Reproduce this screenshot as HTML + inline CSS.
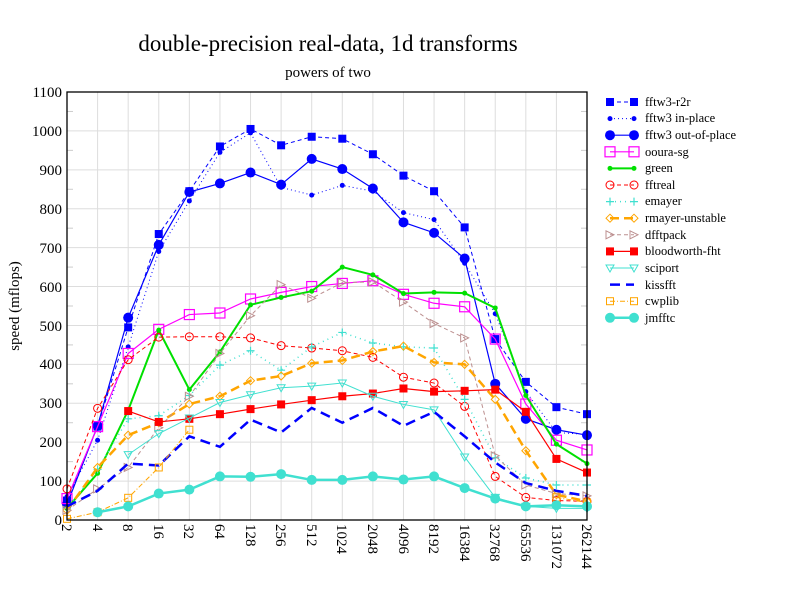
<!DOCTYPE html>
<html><head><meta charset="utf-8"><style>
body{margin:0;background:#fff}
svg{display:block;font-family:"Liberation Serif",serif}
</style></head><body>
<svg id="s" width="792" height="612" viewBox="0 0 792 612" xmlns="http://www.w3.org/2000/svg">
<rect width="792" height="612" fill="#fff"/>
<text x="328" y="51" font-size="23" text-anchor="middle">double-precision real-data, 1d transforms</text>
<text x="328" y="77" font-size="15" text-anchor="middle">powers of two</text>
<text transform="translate(19,306) rotate(-90)" font-size="15" text-anchor="middle">speed (mflops)</text>
<g id="grid"></g>
<g font-size="15" text-anchor="end">
<text x="62" y="525">0</text><text x="62" y="486">100</text><text x="62" y="447">200</text><text x="62" y="408">300</text><text x="62" y="369">400</text><text x="62" y="331">500</text><text x="62" y="292">600</text><text x="62" y="253">700</text><text x="62" y="214">800</text><text x="62" y="175">900</text><text x="62" y="136">1000</text><text x="62" y="97">1100</text>
</g>
<g font-size="15">
<text transform="translate(62,524) rotate(90)">2</text>
<text transform="translate(93,524) rotate(90)">4</text>
<text transform="translate(123,524) rotate(90)">8</text>
<text transform="translate(154,524) rotate(90)">16</text>
<text transform="translate(184,524) rotate(90)">32</text>
<text transform="translate(215,524) rotate(90)">64</text>
<text transform="translate(246,524) rotate(90)">128</text>
<text transform="translate(276,524) rotate(90)">256</text>
<text transform="translate(307,524) rotate(90)">512</text>
<text transform="translate(337,524) rotate(90)">1024</text>
<text transform="translate(368,524) rotate(90)">2048</text>
<text transform="translate(399,524) rotate(90)">4096</text>
<text transform="translate(429,524) rotate(90)">8192</text>
<text transform="translate(460,524) rotate(90)">16384</text>
<text transform="translate(490,524) rotate(90)">32768</text>
<text transform="translate(521,524) rotate(90)">65536</text>
<text transform="translate(552,524) rotate(90)">131072</text>
<text transform="translate(582,524) rotate(90)">262144</text>
</g>
<g id="series"></g>
<rect x="67" y="92" width="520" height="428" fill="none" stroke="#000" stroke-width="1.3"/>
<g id="leg"></g>
<g font-size="12.5">
<text x="645" y="106">fftw3-r2r</text>
<text x="645" y="122">fftw3 in-place</text>
<text x="645" y="139">fftw3 out-of-place</text>
<text x="645" y="156">ooura-sg</text>
<text x="645" y="172">green</text>
<text x="645" y="189">fftreal</text>
<text x="645" y="205">emayer</text>
<text x="645" y="222">rmayer-unstable</text>
<text x="645" y="239">dfftpack</text>
<text x="645" y="255">bloodworth-fht</text>
<text x="645" y="272">sciport</text>
<text x="645" y="289">kissfft</text>
<text x="645" y="305">cwplib</text>
<text x="645" y="322">jmfftc</text>
</g>
</svg>
<script>
var NS="http://www.w3.org/2000/svg";
function el(p,t,a){var e=document.createElementNS(NS,t);for(var k in a)e.setAttribute(k,a[k]);p.appendChild(e);return e;}
var X=function(i){return 67+i*520/17;},Y=function(v){return 520-v*428/1100;};
var g=document.getElementById('grid');
for(var i=0;i<18;i++)el(g,'line',{x1:X(i),x2:X(i),y1:92,y2:520,stroke:'#ddd','stroke-width':1});
for(var v=100;v<1100;v+=100)el(g,'line',{x1:67,x2:587,y1:Y(v),y2:Y(v),stroke:'#ddd','stroke-width':1});
for(var v=50;v<1100;v+=100){el(g,'line',{x1:67,x2:73,y1:Y(v),y2:Y(v),stroke:'#ccc'});el(g,'line',{x1:581,x2:587,y1:Y(v),y2:Y(v),stroke:'#ccc'});}
var B='#0000ff',M='#ff00ff',G='#00e000',R='#ff0000',C='#40e0d0',O='#ffa500',P='#bc8f8f';
var S=[
[B,1,'4,3','sq',[50,240,495,735,845,960,1005,963,985,980,940,885,845,752,465,355,290,272]],
[B,1,'1,3','dot',[60,205,445,690,820,945,995,855,835,860,845,790,772,660,530,330,225,220]],
[B,1.2,'','circ',[40,242,520,707,843,865,893,862,928,902,852,765,738,672,350,260,232,218]],
[M,1.2,'','osq',[55,240,428,490,528,532,568,585,600,608,615,580,557,548,465,298,205,180]],
[G,2,'','dot',[30,120,282,488,335,432,553,572,588,650,630,582,585,583,545,320,195,145]],
[R,1,'4,3','ocirc',[80,287,412,470,471,471,468,448,442,435,418,367,352,292,112,58,50,48]],
[C,1.5,'1,4','plus',[30,130,260,268,320,398,435,385,445,482,455,445,442,310,160,108,90,90]],
[O,2.5,'9,5','dia',[25,135,218,250,298,318,358,370,403,410,433,447,405,400,310,178,65,48]],
[P,1,'4,3','tri',[25,80,135,237,318,428,525,605,570,610,612,560,505,468,165,90,68,62]],
[R,1.2,'','sq',[null,null,280,252,260,272,285,297,308,318,325,338,330,332,335,278,157,122]],
[C,1,'','dtri',[null,null,168,222,262,302,322,340,344,352,318,297,283,162,58,35,30,30]],
[B,2.5,'10,6','',[35,75,145,140,215,188,258,225,288,250,288,242,278,215,148,95,75,62]],
[O,1,'5,2,1,2','osqs',[3,20,57,135,232,null,null,null,null,null,null,null,null,null,null,null,58,45]],
[C,2.5,'','circ',[null,20,35,68,78,112,111,118,103,103,112,104,112,82,55,35,38,35]]
];
function mark(p,t,c,x,y){
 if(t=='sq')el(p,'rect',{x:x-4,y:y-4,width:8,height:8,fill:c});
 else if(t=='osq')el(p,'rect',{x:x-5,y:y-5,width:10,height:10,fill:'none',stroke:c,'stroke-width':1.2});
 else if(t=='osqs')el(p,'rect',{x:x-3.5,y:y-3.5,width:7,height:7,fill:'none',stroke:c});
 else if(t=='dot')el(p,'circle',{cx:x,cy:y,r:2.5,fill:c});
 else if(t=='circ')el(p,'circle',{cx:x,cy:y,r:5,fill:c});
 else if(t=='ocirc')el(p,'circle',{cx:x,cy:y,r:4,fill:'none',stroke:c});
 else if(t=='plus')el(p,'path',{d:'M'+(x-4)+' '+y+'h8M'+x+' '+(y-4)+'v8',stroke:c,'stroke-width':1.2});
 else if(t=='dia')el(p,'path',{d:'M'+x+' '+(y-4)+'l4 4l-4 4l-4-4z',fill:'none',stroke:c});
 else if(t=='tri')el(p,'path',{d:'M'+(x-4)+' '+(y-4)+'l8 4l-8 4z',fill:'none',stroke:c});
 else if(t=='dtri')el(p,'path',{d:'M'+(x-4)+' '+(y-3)+'h8l-4 7z',fill:'none',stroke:c});
}
var sg=document.getElementById('series'),lg=document.getElementById('leg');
S.forEach(function(s,k){
 var d='',pen=false;
 s[4].forEach(function(v,i){if(v==null){pen=false;return;}d+=(pen?'L':'M')+X(i)+' '+Y(v);pen=true;});
 var a={d:d,fill:'none',stroke:s[0],'stroke-width':s[1]};if(s[2])a['stroke-dasharray']=s[2];
 el(sg,'path',a);
 s[4].forEach(function(v,i){if(v!=null)mark(sg,s[3],s[0],X(i),Y(v));});
 var y=102+k*16.6;
 var b={x1:610,x2:634,y1:y,y2:y,stroke:s[0],'stroke-width':s[1]};if(s[2])b['stroke-dasharray']=s[2];
 el(lg,'line',b);mark(lg,s[3],s[0],610,y);mark(lg,s[3],s[0],634,y);
});
</script>
</body></html>
